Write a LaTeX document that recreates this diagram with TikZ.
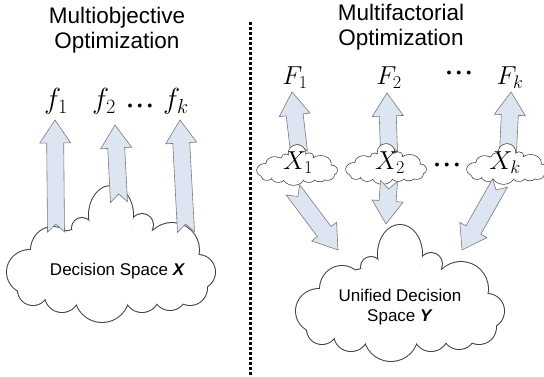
\RequirePackage{fix-cm}
\documentclass[tikz,border=0pt]{standalone}
\usepackage{amsmath}
\usepackage{fontspec}
\setmainfont{Liberation Sans}
\usetikzlibrary{calc}

\definecolor{arrowfill}{HTML}{DDE5F3}
\definecolor{arrowline}{HTML}{7A7A7A}
\definecolor{cloudline}{HTML}{404040}

\tikzset{
  blockarrow/.style={fill=arrowfill, draw=arrowline, line width=0.6pt, line join=miter},
  cloudedge/.style={draw=cloudline},
  title/.style={font=\fontsize{22.5}{25}\selectfont, align=center},
  cloudtext/.style={font=\fontsize{17}{20}\selectfont, align=center},
  mathlabel/.style={font=\fontsize{26}{30}\selectfont, anchor=base, inner sep=0pt},
  dotslabel/.style={font=\fontsize{10}{10}\selectfont, inner sep=0pt},
  divider/.style={line width=3pt, dash pattern=on 3pt off 2pt}
}

% puffs of one cloud: centre x / centre y / radius x / radius y
\newcommand\cloudpuffs{23/86/23/22, 46/64/22/23, 75/42/10/10, 104/29/22/29,
  135/39/11/11, 165/64/27/27, 191/86/17/17, 183/102/17/17, 26/104/15/15,
  55/109/17/17, 95/109/27/27, 135/109/17/17, 163/108/16/16, 104/78/86/38}

% #1 top left corner, #2 xscale, #3 yscale, #4 edge width
\newcommand\cloudat[4]{%
  \begin{scope}[shift={#1}, xscale=#2, yscale=#3]
    \foreach \cx/\cy/\rx/\ry in \cloudpuffs
      \draw[cloudedge, line width=#4] (\cx,\cy) ellipse [x radius=\rx, y radius=\ry];
    \foreach \cx/\cy/\rx/\ry in \cloudpuffs
      \fill[white] (\cx,\cy) ellipse [x radius=\rx, y radius=\ry];
  \end{scope}}

% notched block arrow from #1 to #2
\newcommand\barrow[2]{%
  \path (#2); \pgfgetlastxy\arrhx\arrhy
  \path (#1); \pgfgetlastxy\arrtx\arrty
  \pgfmathsetmacro\arrang{atan2((\arrhy)-(\arrty),(\arrhx)-(\arrtx))}%
  \pgfmathsetmacro\arrlen{veclen((\arrhx)-(\arrtx),(\arrhy)-(\arrty))}%
  \draw[blockarrow, shift={(#1)}, rotate=\arrang]
    (0,8.5) -- (\arrlen-23,8.5) -- (\arrlen-23,15.5) -- (\arrlen,0)
    -- (\arrlen-23,-15.5) -- (\arrlen-23,-8.5) -- (0,-8.5) -- (8,0) -- cycle;
}

\newcommand\threedots{$\bullet\;\bullet\;\bullet$}

\begin{document}
\begin{tikzpicture}[x=1pt, y=-1pt]
  \useasboundingbox (0,0) rectangle (544,377);

  \draw[divider] (250,22) -- (250,377);

  % multiobjective side
  \cloudat{(7,186)}{1}{1}{2pt}

  \coordinate (f1tail) at (56,232);  \coordinate (f1tip) at (55,120);
  \coordinate (f2tail) at (119,202); \coordinate (f2tip) at (115,125);
  \coordinate (fktail) at (186,232); \coordinate (fktip) at (180,120);
  \barrow{f1tail}{f1tip}
  \barrow{f2tail}{f2tip}
  \barrow{fktail}{fktip}

  % multifactorial side
  \coordinate (F1tail) at (299,152); \coordinate (F1tip) at (292,92);
  \coordinate (F2tail) at (389,152); \coordinate (F2tip) at (387,93);
  \coordinate (Fktail) at (508,152); \coordinate (Fktip) at (511,92);
  \barrow{F1tail}{F1tip}
  \barrow{F2tail}{F2tip}
  \barrow{Fktail}{Fktip}

  \cloudat{(257,145)}{0.385}{0.294}{1.4pt}
  \cloudat{(346,144)}{0.385}{0.294}{1.4pt}
  \cloudat{(467,144)}{0.385}{0.294}{1.4pt}

  \cloudat{(296,225)}{1}{1}{2pt}

  \coordinate (Y1tail) at (293,190); \coordinate (Y1tip) at (338,250);
  \coordinate (Y2tail) at (389,181); \coordinate (Y2tip) at (386,224);
  \coordinate (Yktail) at (500,183); \coordinate (Yktip) at (462,250);
  \barrow{Y1tail}{Y1tip}
  \barrow{Y2tail}{Y2tip}
  \barrow{Yktail}{Yktip}

  % texts
  \node[title] (mo) at (117,30) {Multiobjective\\Optimization};
  \node[title] (mf) at (401,27) {Multifactorial\\Optimization};

  \node[mathlabel, font=\fontsize{29}{32}\selectfont] (f1) at (56,109) {$f_1$};
  \node[mathlabel, font=\fontsize{29}{32}\selectfont] (f2) at (104,109) {$f_2$};
  \node[dotslabel] (fdots) at (140,106) {\threedots};
  \node[mathlabel, font=\fontsize{29}{32}\selectfont] (fk) at (176,109) {$f_k$};

  \node[mathlabel] (F1) at (295,85) {$F_1$};
  \node[mathlabel] (F2) at (389,85) {$F_2$};
  \node[dotslabel] (Fdots) at (459,73) {\threedots};
  \node[mathlabel] (Fk) at (510,85) {$F_k$};

  \node[mathlabel] (X1) at (298,170) {$X_1$};
  \node[mathlabel] (X2) at (390,170) {$X_2$};
  \node[dotslabel] (Xdots) at (447,165) {\threedots};
  \node[mathlabel] (Xk) at (505,170) {$X_k$};

  \node[cloudtext, anchor=base] (dsx) at (117.5,275) {Decision Space \textbf{\textit{X}}};
  \node[cloudtext] (udsy) at (400,307.5) {Unified Decision\\Space \textbf{\textit{Y}}};
\end{tikzpicture}
\end{document}
